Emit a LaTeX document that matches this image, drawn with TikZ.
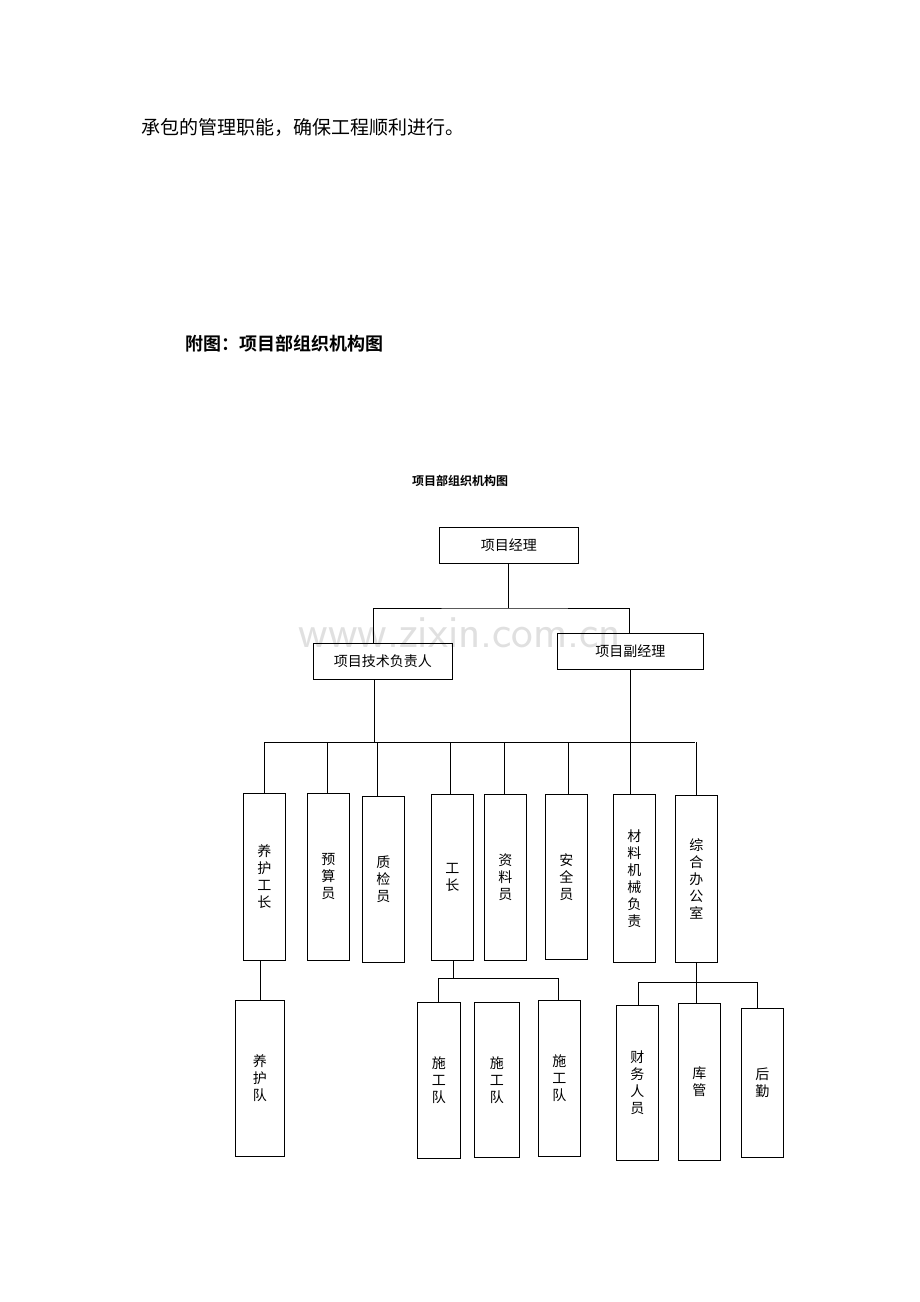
\documentclass[tikz,border=0pt]{standalone}
\usepackage{fontspec}
\setmainfont{Liberation Serif}
\newfontfamily\cjk{Noto Sans CJK SC}
\newfontfamily\cjkb{Noto Sans CJK SC Bold}
\tikzset{
  box/.style={draw,thick,inner sep=0pt,font=\cjk\fontsize{14}{17}\selectfont,align=center},
  vbox/.style n args={4}{box,minimum width=#1pt,minimum height=#2pt,anchor=north west,at={(#3,-#4)}},
  link/.style={thick}
}
\begin{document}
\begin{tikzpicture}[x=1pt,y=1pt]
\useasboundingbox (0,0) rectangle (920,-1302);
\node[anchor=west,font=\cjk\fontsize{19}{22}\selectfont] (intro) at (138,-127) {承包的管理职能，确保工程顺利进行。};
\node[anchor=west,font=\cjkb\fontsize{18}{21}\selectfont] (fig) at (182,-344) {附图：项目部组织机构图};
\node[font=\cjkb\fontsize{12}{14}\selectfont] (title) at (460,-481) {项目部组织机构图};
\node[text=black!12,font=\fontsize{46}{50}\selectfont\sffamily] (mark) at (460,-633) {www.zixin.com.cn};
% top levels
\node[vbox={139}{36}{439}{527}] (pm) {项目经理};
\node[vbox={139}{36}{313}{643}] (tech) {项目技术负责人};
\node[vbox={146}{36}{557}{633}] (dpm) {项目副经理};
% second row
\node[vbox={42}{167}{243}{793}] (yhgz) {养\\护\\工\\长};
\node[vbox={42}{167}{307}{793}] (ys) {预\\算\\员};
\node[vbox={42}{166}{362}{796}] (zj) {质\\检\\员};
\node[vbox={42}{166}{431}{794}] (gz) {工\\长};
\node[vbox={42}{166}{484}{794}] (zl) {资\\料\\员};
\node[vbox={42}{165}{545}{794}] (aq) {安\\全\\员};
\node[vbox={42}{168}{613}{794}] (cl) {材\\料\\机\\械\\负\\责};
\node[vbox={42}{167}{675}{795}] (zh) {综\\合\\办\\公\\室};
% third row
\node[vbox={49}{156}{235}{1000}] (yhd) {养\\护\\队};
\node[vbox={43}{156}{417}{1002}] (sg1) {施\\工\\队};
\node[vbox={45}{155}{474}{1002}] (sg2) {施\\工\\队};
\node[vbox={42}{156}{538}{1000}] (sg3) {施\\工\\队};
\node[vbox={42}{155}{616}{1005}] (cw) {财\\务\\人\\员};
\node[vbox={42}{157}{678}{1003}] (kg) {库\\管};
\node[vbox={42}{149}{741}{1008}] (hq) {后\\勤};
% connectors
\coordinate (b1) at (508,-608);
\coordinate (t1) at (373,-643);
\coordinate (t2) at (629,-633);
\draw[link] (pm.south -| b1) -- (b1);
\draw[link] (t1) |- (b1) -| (t2);
\coordinate (b2) at (374,-742);
\coordinate (b3) at (630,-742);
\draw[link] (tech.south -| b2) -- (b2);
\draw[link] (dpm.south -| b3) -- (b3);
\draw[link] (264,-742) -- (695,-742);
\foreach \n/\x in {yhgz/264,ys/327,zj/377,gz/450,zl/504,aq/568,cl/630,zh/696}
  \draw[link] (\n.north -| \x,0) -- (\x,-742);
\draw[link] (yhgz.south -| 260,0) -- (yhd.north -| 260,0);
\coordinate (g1) at (453,-978);
\draw[link] (gz.south -| g1) -- (g1);
\draw[link] (sg1.north -| 438,0) |- (g1) -| (sg3.north -| 558,0);
\coordinate (g2) at (696,-982);
\draw[link] (zh.south -| g2) -- (g2);
\draw[link] (cw.north -| 638,0) |- (g2) -| (hq.north -| 757,0);
\draw[link] (kg.north -| g2) -- (g2);
\end{tikzpicture}
\end{document}
